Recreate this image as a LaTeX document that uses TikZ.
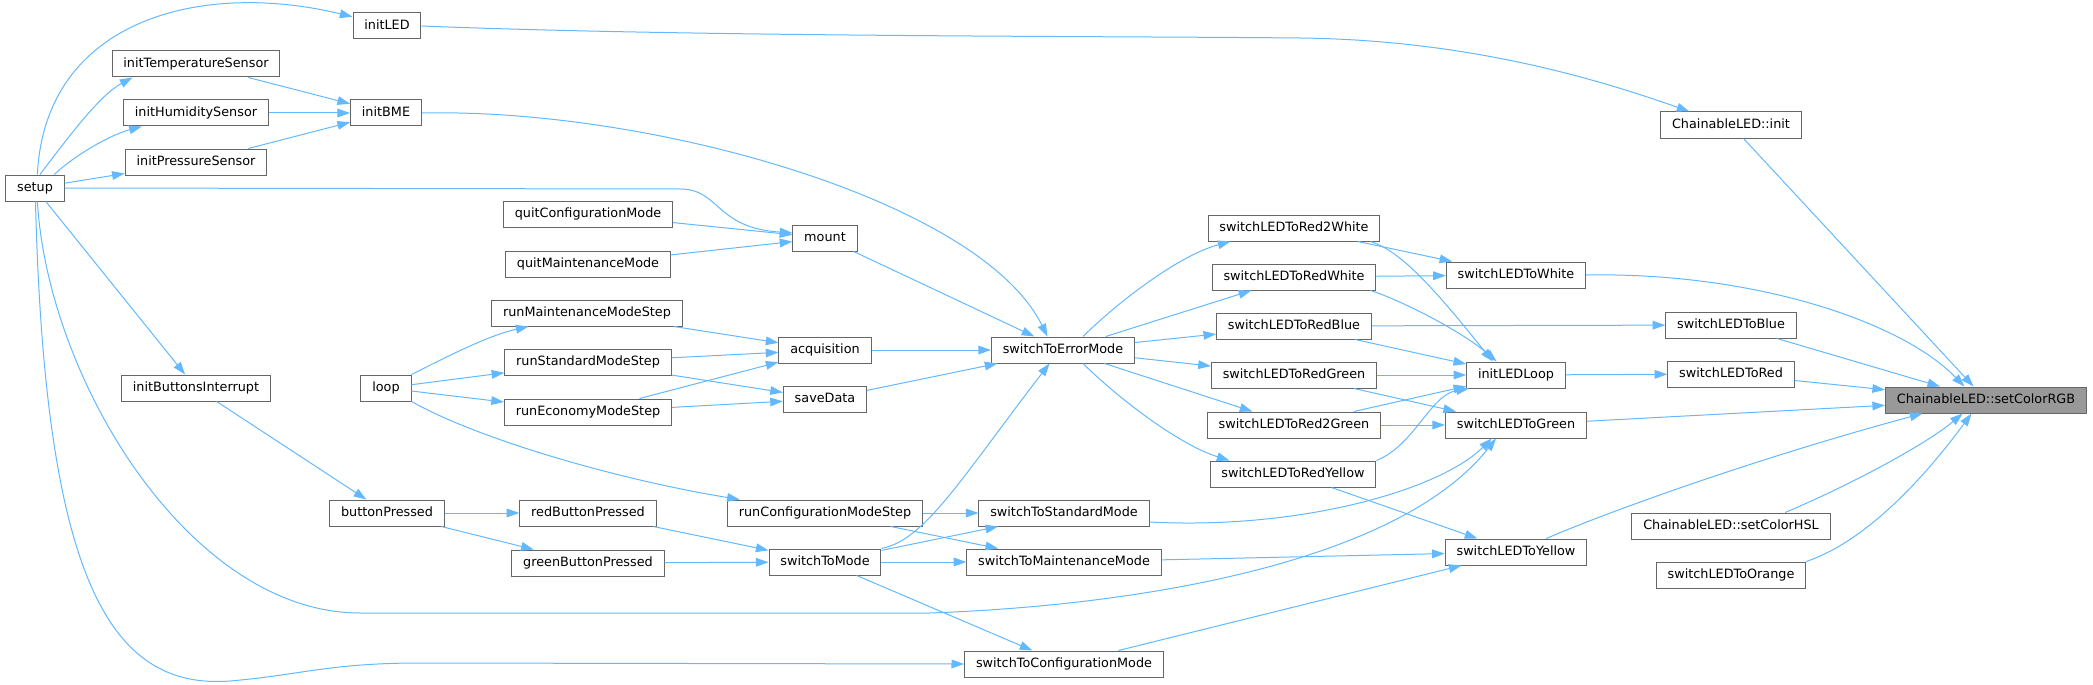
\documentclass[tikz,border=0pt]{standalone}
\usepackage{fontspec}
\setmainfont{DejaVu Sans}
\usetikzlibrary{arrows.meta}
\definecolor{edgeblue}{HTML}{63B8FF}
\definecolor{boxgray}{HTML}{666666}
\definecolor{selgray}{HTML}{999999}

\begin{document}
\begin{tikzpicture}[x=0.75pt, y=-0.75pt,
  fn/.style={draw=boxgray, line width=0.75pt, fill=white, inner xsep=8.5pt, inner ysep=0pt,
    minimum height=19.5pt, text height=7.2pt, text depth=1.9pt, font=\fontsize{9.6}{11}\selectfont},
  fnsel/.style={fn, fill=selgray},
  call/.style={draw=edgeblue, line width=0.75pt, -{Triangle[length=9.5pt,width=6.5pt]}}]
\useasboundingbox (0,0) rectangle (2093,685);

\node[fn] (setup) at (35,188) {setup};
\node[fn] (initTemp) at (196,64) {initTemperatureSensor};
\node[fn] (initHum) at (196,113) {initHumiditySensor};
\node[fn] (initPress) at (196,162) {initPressureSensor};
\node[fn] (initButtons) at (196,388) {initButtonsInterrupt};
\node[fn] (initLED) at (387,26) {initLED};
\node[fn] (initBME) at (386,113) {initBME};
\node[fn] (loop) at (386,388) {loop};
\node[fn] (buttonPressed) at (387,513) {buttonPressed};
\node[fn] (quitConfig) at (588,214) {quitConfigurationMode};
\node[fn] (quitMaint) at (588,264) {quitMaintenanceMode};
\node[fn] (runMaint) at (587,313) {runMaintenanceModeStep};
\node[fn] (runStd) at (588,362) {runStandardModeStep};
\node[fn] (runEco) at (588,412) {runEconomyModeStep};
\node[fn] (redBtn) at (588,513) {redButtonPressed};
\node[fn] (greenBtn) at (588,563) {greenButtonPressed};
\node[fn] (mount) at (825,238) {mount};
\node[fn] (acq) at (825,350) {acquisition};
\node[fn] (saveData) at (825,399) {saveData};
\node[fn] (runConfig) at (825,513) {runConfigurationModeStep};
\node[fn] (toMode) at (825,562) {switchToMode};
\node[fn] (toError) at (1063,350) {switchToErrorMode};
\node[fn] (toStd) at (1064,513) {switchToStandardMode};
\node[fn] (toMaint) at (1064,562) {switchToMaintenanceMode};
\node[fn] (toConfig) at (1064,664) {switchToConfigurationMode};
\node[fn] (red2White) at (1294,228) {switchLEDToRed2White};
\node[fn] (redWhite) at (1294,277) {switchLEDToRedWhite};
\node[fn] (redBlue) at (1294,326) {switchLEDToRedBlue};
\node[fn] (redGreen) at (1294,375) {switchLEDToRedGreen};
\node[fn] (red2Green) at (1294,425) {switchLEDToRed2Green};
\node[fn] (redYellow) at (1293,474) {switchLEDToRedYellow};
\node[fn] (ledWhite) at (1516,275) {switchLEDToWhite};
\node[fn] (ledLoop) at (1516,375) {initLEDLoop};
\node[fn] (ledGreen) at (1516,425) {switchLEDToGreen};
\node[fn] (ledYellow) at (1516,552) {switchLEDToYellow};
\node[fn] (cinit) at (1731,125) {ChainableLED::init};
\node[fn] (ledBlue) at (1731,325) {switchLEDToBlue};
\node[fn] (ledRed) at (1731,374) {switchLEDToRed};
\node[fn] (setHSL) at (1731,526) {ChainableLED::setColorHSL};
\node[fn] (ledOrange) at (1731,575) {switchLEDToOrange};
\node[fnsel] (setRGB) at (1986,400) {ChainableLED::setColorRGB};

\draw[call] (setup.80) .. controls (45,20) and (200,-20) .. (initLED.165);
\draw[call] (setup.70) .. controls (70,135) and (100,95) .. (initTemp.192);
\draw[call] (setup.35) .. controls (75,155) and (110,135) .. (initHum.194);
\draw[call] (setup) -- (initPress);
\draw[call] (setup.east) -- (680,189) .. controls (720,189) and (715,228) .. (mount.171);
\draw[call] (setup) -- (initButtons);
\draw[call] (setup.-80) .. controls (48,380) and (190,613) .. (360,613) -- (930,613)
  .. controls (1150,605) and (1400,560) .. (ledGreen.214);
\draw[call] (setup.-88) .. controls (45,580) and (110,690) .. (230,681)
  .. controls (300,675) and (330,663) .. (420,663) -- (toConfig.west);
\draw[call] (initTemp) -- (initBME);
\draw[call] (initHum) -- (initBME);
\draw[call] (initPress) -- (initBME);
\draw[call] (initLED.east) .. controls (700,37) and (1100,36) .. (1300,38)
  .. controls (1470,40) and (1600,80) .. (cinit.162);
\draw[call] (initBME.east) .. controls (650,108) and (980,200) .. (toError.139);
\draw[call] (quitConfig) -- (mount);
\draw[call] (quitMaint) -- (mount);
\draw[call] (mount) -- (toError);
\draw[call] (runMaint) -- (acq);
\draw[call] (runStd) -- (acq);
\draw[call] (runStd) -- (saveData);
\draw[call] (runEco) -- (acq);
\draw[call] (runEco) -- (saveData);
\draw[call] (loop.north east) .. controls (450,355) and (490,335) .. (runMaint.193);
\draw[call] (loop) -- (runStd);
\draw[call] (loop) -- (runEco);
\draw[call] (loop.south east) .. controls (480,440) and (620,480) .. (runConfig.171);
\draw[call] (acq) -- (toError);
\draw[call] (saveData) -- (toError);
\draw[call] (initButtons) -- (buttonPressed);
\draw[call] (buttonPressed) -- (redBtn);
\draw[call] (buttonPressed) -- (greenBtn);
\draw[call] (redBtn) -- (toMode);
\draw[call] (greenBtn) -- (toMode);
\draw[call] (runConfig) -- (toStd);
\draw[call] (runConfig) -- (toMaint);
\draw[call] (toMode.north east) .. controls (925,540) and (960,480) .. (toError.225);
\draw[call] (toMode) -- (toStd);
\draw[call] (toMode) -- (toMaint);
\draw[call] (toMode) -- (toConfig);
\draw[call] (toError.34) .. controls (1120,300) and (1180,255) .. (red2White.192);
\draw[call] (toError) -- (redWhite);
\draw[call] (toError) -- (redBlue);
\draw[call] (toError) -- (redGreen);
\draw[call] (toError) -- (red2Green);
\draw[call] (toError.-34) .. controls (1120,400) and (1180,445) .. (redYellow.168);
\draw[call] (red2White) -- (ledWhite);
\draw[call] (red2White.-10) .. controls (1395,250) and (1420,270) .. (ledLoop.150);
\draw[call] (redWhite) -- (ledWhite);
\draw[call] (redWhite.-10) .. controls (1400,300) and (1460,330) .. (ledLoop.145);
\draw[call] (redBlue) -- (ledBlue);
\draw[call] (redBlue) -- (ledLoop);
\draw[call] (redGreen) -- (ledLoop);
\draw[call] (redGreen) -- (ledGreen);
\draw[call] (red2Green) -- (ledLoop);
\draw[call] (red2Green) -- (ledGreen);
\draw[call] (redYellow.north east) .. controls (1415,445) and (1430,395) .. (ledLoop.196);
\draw[call] (redYellow) -- (ledYellow);
\draw[call] (toStd.-6) .. controls (1300,530) and (1440,490) .. (ledGreen.209);
\draw[call] (toMaint) -- (ledYellow);
\draw[call] (toConfig) -- (ledYellow);
\draw[call] (ledLoop) -- (ledRed);
\draw[call] (cinit) -- (setRGB);
\draw[call] (ledWhite.east) .. controls (1750,272) and (1900,320) .. (setRGB.148);
\draw[call] (ledBlue) -- (setRGB);
\draw[call] (ledRed) -- (setRGB);
\draw[call] (ledGreen) -- (setRGB);
\draw[call] (ledYellow.24) .. controls (1600,515) and (1750,460) .. (setRGB.192);
\draw[call] (setHSL.14) .. controls (1850,485) and (1925,445) .. (setRGB.210);
\draw[call] (ledOrange.north east) .. controls (1870,540) and (1930,470) .. (setRGB.223);
\end{tikzpicture}
\end{document}
